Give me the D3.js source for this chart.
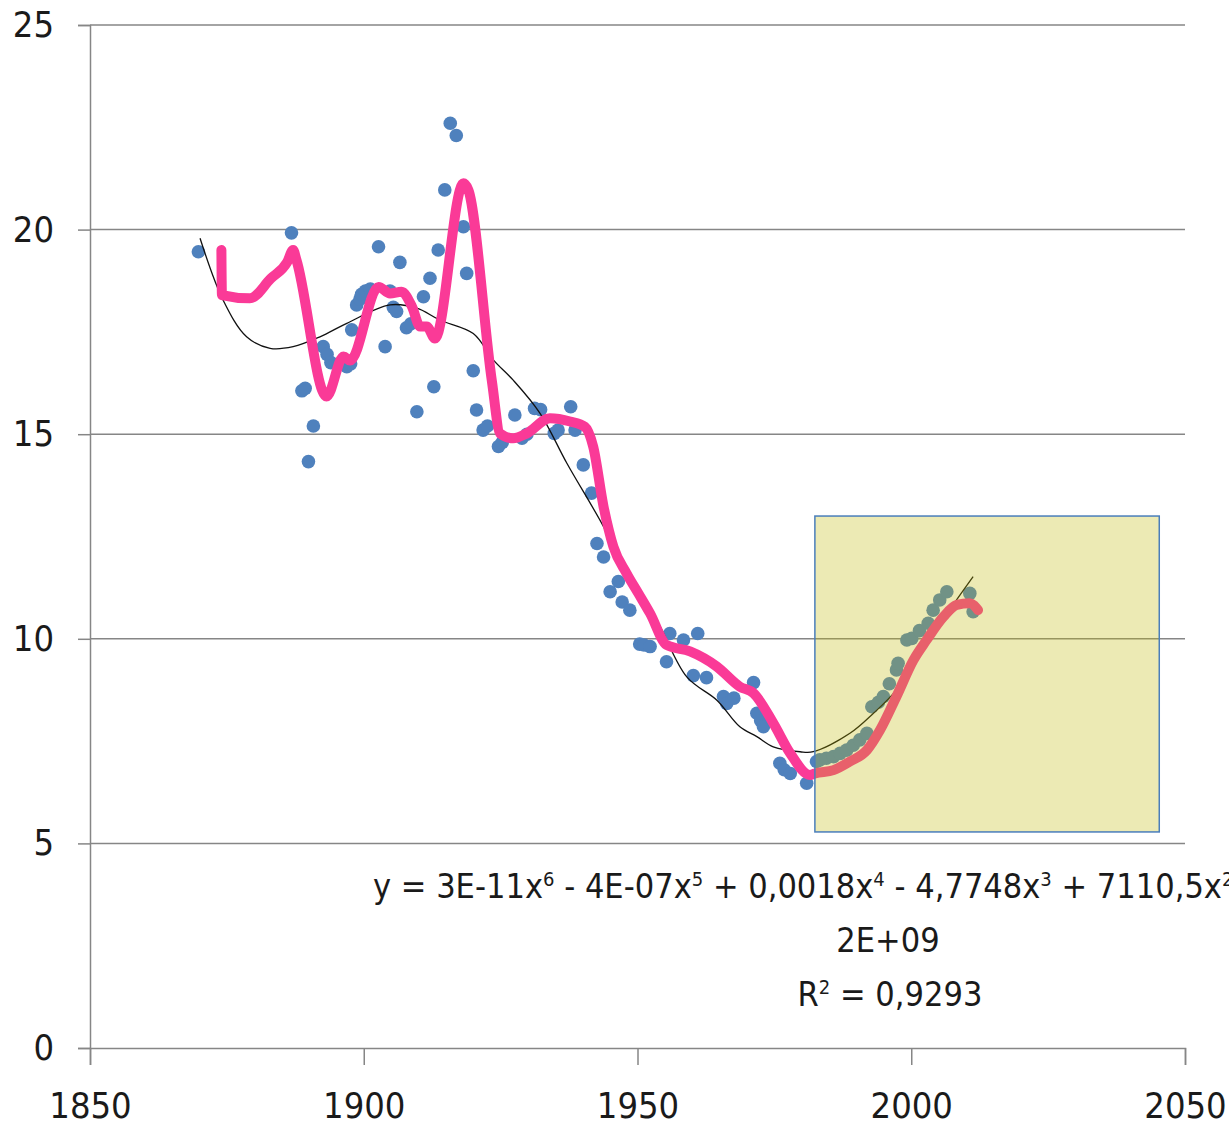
<!DOCTYPE html>
<html>
<head>
<meta charset="utf-8">
<script src="https://cdn.jsdelivr.net/npm/d3@7"></script>
<style>
    body { margin: 0; background: #fff; }
    svg { display: block; }
</style>
</head>
<body>
<div id="chart"></div>
<script>
// observed values (blue dots)
var dotYears = [1869.8, 1886.8, 1888.7, 1889.3, 1889.9, 1890.8, 1892.6, 1893.3, 1894.0, 1896.9,
    1897.6, 1897.8, 1898.7, 1899.3, 1899.6, 1900.3, 1901.2, 1902.7, 1903.9, 1904.8,
    1905.4, 1906.0, 1906.6, 1907.8, 1908.6, 1909.7, 1910.9, 1912.1, 1912.8, 1913.6,
    1914.8, 1915.8, 1916.9, 1918.2, 1918.8, 1920.0, 1920.6, 1921.8, 1922.6, 1924.6,
    1925.3, 1927.6, 1928.9, 1929.8, 1931.2, 1932.3, 1934.8, 1935.5, 1937.8, 1938.6,
    1940.1, 1941.6, 1942.6, 1943.8, 1945.0, 1946.5, 1947.2, 1948.6, 1950.4, 1951.2,
    1952.3, 1955.3, 1955.9, 1958.4, 1960.2, 1961.0, 1962.6, 1965.7, 1966.3, 1967.6,
    1971.2, 1971.8, 1972.5, 1973.0, 1976.0, 1976.8, 1977.9, 1980.9, 1982.7, 1983.3,
    1984.5, 1985.8, 1987.0, 1988.2, 1989.4, 1990.6, 1991.9, 1992.8, 1994.0, 1994.9,
    1996.0, 1997.3, 1997.6, 1999.2, 2000.1, 2001.5, 2003.1, 2004.0, 2005.2, 2006.5,
    2010.7, 2011.3];
var dotValues = [19.46, 19.92, 16.06, 16.12, 14.33, 15.2, 17.14, 16.95, 16.75, 16.65,
    16.72, 17.55, 18.16, 18.3, 18.42, 18.5, 18.55, 19.58, 17.14, 18.5,
    18.1, 18.0, 19.2, 17.6, 17.7, 15.55, 18.36, 18.81, 16.16, 19.5,
    20.97, 22.6, 22.3, 20.07, 18.93, 16.55, 15.59, 15.1, 15.2, 14.7,
    14.8, 15.47, 14.9, 15.0, 15.63, 15.6, 15.02, 15.1, 15.67, 15.1,
    14.25, 13.56, 12.33, 12.0, 11.15, 11.4, 10.9, 10.7, 9.87, 9.85,
    9.81, 9.44, 10.13, 9.97, 9.1, 10.13, 9.05, 8.59, 8.42, 8.55,
    8.93, 8.18, 8.0, 7.85, 6.96, 6.8, 6.71, 6.47, 7.0, 7.04,
    7.08, 7.12, 7.2, 7.28, 7.4, 7.53, 7.69, 8.34, 8.45, 8.59,
    8.9, 9.24, 9.4, 9.97, 10.01, 10.2, 10.38, 10.7, 10.95, 11.15,
    11.11, 10.66];

// moving average (pink)
var avgYears = [1874.0, 1874.1, 1879.2, 1883.0, 1886.0, 1887.1, 1887.7, 1893.2, 1896.3, 1897.5,
    1902.7, 1904.8, 1906.9, 1908.8, 1910.3, 1911.5, 1913.0, 1918.2, 1919.1, 1923.4,
    1924.9, 1927.3, 1929.8, 1934.0, 1937.7, 1940.4, 1941.9, 1943.8, 1945.6, 1948.0,
    1950.2, 1952.3, 1955.3, 1959.6, 1964.5, 1968.7, 1971.2, 1974.8, 1977.9, 1981.5,
    1982.4, 1985.8, 1988.8, 1991.9, 1994.3, 1997.3, 2000.4, 2002.8, 2005.9, 2008.3,
    2010.7, 2012.2];
var avgValues = [19.5, 18.4, 18.32, 18.8, 19.2, 19.5, 19.26, 15.92, 16.9, 16.8,
    18.6, 18.44, 18.48, 18.12, 17.63, 17.63, 17.34, 21.13, 20.97, 16.3,
    15.02, 14.9, 15.02, 15.39, 15.31, 15.18, 14.7, 13.23, 12.25, 11.6,
    11.1, 10.62, 9.85, 9.69, 9.32, 8.83, 8.67, 7.94, 7.2, 6.67,
    6.71, 6.79, 7.0, 7.28, 7.77, 8.59, 9.48, 9.97, 10.54, 10.83,
    10.87, 10.7];

// polynomial trendline (black)
var trendYears = [1870.1, 1874.3, 1878.6, 1882.9, 1887.1, 1892.0, 1896.9, 1904.8, 1909.7, 1913.9,
    1920.0, 1923.7, 1927.3, 1932.2, 1937.1, 1943.8, 1948.0, 1953.5, 1959.0, 1964.5,
    1968.7, 1971.8, 1974.8, 1979.7, 1982.1, 1988.8, 1993.1, 1997.3, 2004.0, 2011.3];
var trendValues = [19.79, 18.28, 17.38, 17.1, 17.14, 17.38, 17.71, 18.16, 18.08, 17.79,
    17.46, 16.81, 16.32, 15.51, 14.29, 12.74, 11.6, 10.46, 9.07, 8.5,
    7.85, 7.61, 7.36, 7.24, 7.24, 7.69, 8.18, 8.75, 10.13, 11.52];

var xTicks = [1850, 1900, 1950, 2000, 2050];
var yTicks = [0, 5, 10, 15, 20, 25];

// highlighted box: [year from, year to, value from, value to]
var highlight = [1982.4, 2045.3, 5.28, 13.0];

var width = 1229;
var height = 1125;
var mainFont = '"Liberation Sans Narrow", "DejaVu Sans Condensed", "Liberation Sans", sans-serif';
var gridColor = '#868686';
var dotColor = '#4f81bd';
var pink = '#fa3a97';

window.onload = function() {
    render();
};

function render() {
    var svg = d3.select('#chart').append('svg')
        .attr('width', width)
        .attr('height', height);

    var x = d3.scaleLinear().domain([1850, 2050]).range([90, 1185]);
    var y = d3.scaleLinear().domain([0, 25]).range([1048, 25]);

    // horizontal grid lines
    svg.append('g')
        .selectAll('line')
        .data(yTicks.slice(1))
        .join('line')
        .attr('x1', x(1850))
        .attr('x2', x(2050))
        .attr('y1', function(d) { return y(d); })
        .attr('y2', function(d) { return y(d); })
        .style('stroke', gridColor)
        .style('stroke-width', 1.5);

    // y axis
    var yAxis = svg.append('g')
        .attr('transform', 'translate(' + x(1850) + ',0)')
        .call(d3.axisLeft(y).tickValues(yTicks).tickSize(12).tickPadding(24).tickFormat(d3.format('d')));
    styleAxis(yAxis);

    // x axis
    var xAxis = svg.append('g')
        .attr('transform', 'translate(0,' + y(0) + ')')
        .call(d3.axisBottom(x).tickValues(xTicks).tickSize(17).tickPadding(27).tickFormat(d3.format('d')));
    styleAxis(xAxis);

    // blue dots
    var dots = dotYears.map(function(d, i) { return [d, dotValues[i]]; });
    svg.append('g')
        .selectAll('circle')
        .data(dots)
        .join('circle')
        .attr('cx', function(d) { return x(d[0]); })
        .attr('cy', function(d) { return y(d[1]); })
        .attr('r', 6.8)
        .style('fill', dotColor);

    // trendline
    var trend = trendYears.map(function(d, i) { return [d, trendValues[i]]; });
    svg.append('path')
        .datum(trend)
        .attr('d', d3.line()
            .x(function(d) { return x(d[0]); })
            .y(function(d) { return y(d[1]); })
            .curve(d3.curveCatmullRom.alpha(0.5)))
        .style('fill', 'none')
        .style('stroke', '#111')
        .style('stroke-width', 1.3);

    // moving average
    var avg = avgYears.map(function(d, i) { return [d, avgValues[i]]; });
    svg.append('path')
        .datum(avg)
        .attr('d', d3.line()
            .x(function(d) { return x(d[0]); })
            .y(function(d) { return y(d[1]); })
            .curve(d3.curveMonotoneX))
        .style('fill', 'none')
        .style('stroke', pink)
        .style('stroke-width', 10)
        .style('stroke-linejoin', 'round')
        .style('stroke-linecap', 'round');

    // semi transparent highlight box
    svg.append('rect')
        .attr('x', x(highlight[0]))
        .attr('y', y(highlight[3]))
        .attr('width', x(highlight[1]) - x(highlight[0]))
        .attr('height', y(highlight[2]) - y(highlight[3]))
        .style('fill', 'rgba(192,185,5,0.3)')
        .style('stroke', '#4a7ebb')
        .style('stroke-width', 1.5);

    makeEquation(svg);
}

function styleAxis(axis) {
    axis.select('.domain')
        .style('stroke', gridColor)
        .style('stroke-width', 1.5);
    axis.selectAll('.tick line')
        .style('stroke', gridColor)
        .style('stroke-width', 1.5);
    axis.selectAll('.tick text')
        .style('font-family', mainFont)
        .style('font-size', '36px')
        .style('fill', '#1a1a1a');
}

function makeEquation(svg) {
    var g = svg.append('g')
        .style('font-family', mainFont)
        .style('font-size', '34px')
        .style('fill', '#1a1a1a');

    // first line of the Excel trendline label, cut by the right edge
    var parts = [
        ['y = 3E-11x', '6'], [' - 4E-07x', '5'], [' + 0,0018x', '4'],
        [' - 4,7748x', '3'], [' + 7110,5x', '2']
    ];
    var line1 = g.append('text')
        .attr('x', 373)
        .attr('y', 898);
    parts.forEach(function(p) {
        line1.append('tspan').text(p[0]);
        line1.append('tspan')
            .attr('baseline-shift', 'super')
            .style('font-size', '20px')
            .text(p[1]);
    });

    g.append('text')
        .attr('x', 888)
        .attr('y', 952)
        .style('text-anchor', 'middle')
        .text('2E+09');

    var line3 = g.append('text')
        .attr('x', 890)
        .attr('y', 1006)
        .style('text-anchor', 'middle');
    line3.append('tspan').text('R');
    line3.append('tspan')
        .attr('baseline-shift', 'super')
        .style('font-size', '20px')
        .text('2');
    line3.append('tspan').text(' = 0,9293');
}
</script>
</body>
</html>
